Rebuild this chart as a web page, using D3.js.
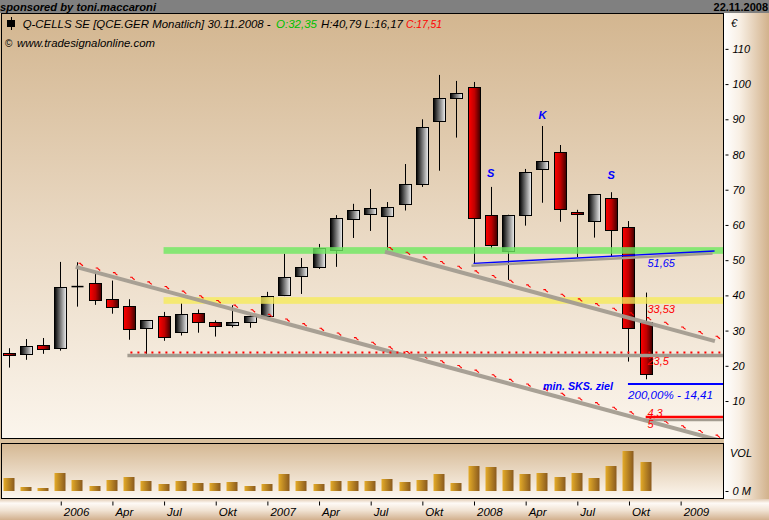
<!DOCTYPE html>
<html><head><meta charset="utf-8">
<script src="https://cdn.jsdelivr.net/npm/d3@7"></script>
<style>
body{margin:0;background:#d6ba96;}
svg{display:block;}
text{font-family:"Liberation Sans",Arial,sans-serif;font-style:italic;}
</style>
</head><body>
<svg id="c" width="769" height="520"></svg>
<script>
// ---------- DATA ----------
const months = ["2005-10","2005-11","2005-12","2006-01","2006-02","2006-03","2006-04","2006-05","2006-06","2006-07","2006-08","2006-09","2006-10","2006-11","2006-12","2007-01","2007-02","2007-03","2007-04","2007-05","2007-06","2007-07","2007-08","2007-09","2007-10","2007-11","2007-12","2008-01","2008-02","2008-03","2008-04","2008-05","2008-06","2008-07","2008-08","2008-09","2008-10","2008-11"];
const openVals  = [23.6,23.3,25.8,24.9,42.4,43.4,38.9,36.9,30.5,34.1,29.4,34.9,32.4,31.5,32.5,34.0,40.1,45.6,48.2,53.0,61.8,63.2,62.6,65.8,71.7,89.6,95.9,99.1,62.7,52.4,62.9,75.7,80.6,63.6,60.9,67.6,59.4,32.35];
const highVals  = [25.0,27.6,27.9,49.5,49.4,46.6,44.2,38.9,33.0,35.3,37.8,36.0,32.9,37.2,34.7,41.0,51.8,50.6,54.6,62.8,66.0,70.2,66.5,77.3,90.0,102.6,100.9,100.6,70.8,62.9,75.9,88.1,82.7,64.3,68.7,69.3,61.1,40.79];
const lowVals   = [19.5,21.7,23.4,24.3,36.8,37.3,34.8,27.4,23.4,27.1,28.6,29.4,28.3,30.9,30.8,33.9,39.8,40.4,47.5,48.1,56.3,58.3,52.9,64.1,70.8,75.4,84.8,49.2,53.3,44.4,59.8,66.3,60.9,50.9,56.4,51.0,21.2,16.17];
const closeVals = [23.0,25.5,24.6,42.3,42.6,38.5,36.5,30.3,32.9,28.0,34.6,32.4,31.2,32.4,34.1,39.8,45.2,48.1,53.5,62.0,64.3,64.8,65.1,71.6,87.8,96.0,97.4,61.8,54.1,62.7,75.0,78.1,64.3,62.9,68.7,58.5,30.6,17.51];
const volumeVals = [6.5,2,1.5,9,5.5,2.5,5.5,7,5,3.5,5,4,4,4.5,2.5,3.5,8.5,5,3.5,5,5,5,6,4.5,5.5,8.5,4,12.5,12,10.5,8.5,9,7,9,6.5,12.5,20,14.5];

const xTickIdx = [3,6,9,12,15,18,21,24,27,30,33,36,39];
const xTickLabels = ["2006","Apr","Jul","Okt","2007","Apr","Jul","Okt","2008","Apr","Jul","Okt","2009"];
const yTickVals = [10,20,30,40,50,60,70,80,90,100,110];

// trend lines: [monthIndex, value]
const trendA = [[3.9,48.1],[41.6,-1.6]];
const trendB = [[21.86,52.4],[41.02,27.0]];
const blueTrend = [[27.0,49.1],[41.0,52.6]];
const level235 = [[6.9,23.5],[41.6,23.5]];
const target1441 = [[35.97,14.41],[41.6,14.41]];
const redLevel = [[37.0,5.45],[41.6,5.45]];
const greenZone = [51.8,53.7];
const yellowZone = [37.6,39.5];
const zoneStartIdx = 9.0;

const patternLabels = [{i:28,v:73.6,t:"S"},{i:31,v:90.1,t:"K"},{i:35,v:73.05,t:"S"}];
const levelLabels = [
  {i:37.1,v:48.1,t:"51,65",c:"#0000ff"},
  {i:37.1,v:35.0,t:"33,53",c:"#ff0000"},
  {i:37.1,v:20.2,t:"23,5",c:"#ff0000"},
  {i:37.1,v:5.55,t:"4,3",c:"#ff0000"},
  {i:37.1,v:2.3,t:"5",c:"#ff0000"}
];

// ---------- SETUP ----------
const svg = d3.select("#c");
const W=769,H=520;
const PL=2,PR=723,PT=14,PB=438;
const VT=443,VB=498.5;

const x = d3.scaleLinear().domain([-0.383,41.49]).range([PL,PR]);
const y = d3.scaleLinear().domain([-0.5,119.9]).range([PB,PT]);
const yv = d3.scaleLinear().domain([0,24]).range([491,443]);

const defs = svg.append("defs");
function lin(id,x1,y1,x2,y2,stops){
  const g=defs.append("linearGradient").attr("id",id).attr("x1",x1).attr("y1",y1).attr("x2",x2).attr("y2",y2);
  stops.forEach(s=>g.append("stop").attr("offset",s[0]).attr("stop-color",s[1]));
}
lin("gPlot",0,0,0,1,[[0,"#d3b690"],[0.5,"#e9d8c2"],[1,"#fbf5ec"]]);
lin("gVol",0,0,0,1,[[0,"#d4b792"],[1,"#fdf7ef"]]);
lin("gRight",0,0,1,0,[[0,"#ffffff"],[0.35,"#f8efe4"],[1,"#d2b28c"]]);
lin("gBottom",0,0,0,1,[[0,"#e2ccb4"],[0.2,"#fefaf6"],[0.55,"#f0e2d2"],[1,"#d2b08e"]]);
lin("gUp",0,0,1,0,[[0,"#000000"],[1,"#f2f2f2"]]);
lin("gDown",0,0,1,0,[[0,"#ff0000"],[0.5,"#c00000"],[1,"#3c0000"]]);
lin("gVolBar",0,0,1,0,[[0,"#e4ab28"],[1,"#8a5a1e"]]);

defs.append("clipPath").attr("id","clipPlot").append("rect")
  .attr("x",PL).attr("y",PT).attr("width",PR-PL).attr("height",PB-PT);

// backgrounds
svg.append("rect").attr("x",0).attr("y",0).attr("width",W).attr("height",H).attr("fill","#d9c09e");
svg.append("rect").attr("x",0).attr("y",0).attr("width",W).attr("height",13).attr("fill","#808080");
svg.append("rect").attr("x",724).attr("y",13).attr("width",45).attr("height",486).attr("fill","url(#gRight)");
svg.append("rect").attr("x",0).attr("y",499).attr("width",769).attr("height",21).attr("fill","url(#gBottom)");
svg.append("rect").attr("x",PL).attr("y",PT).attr("width",PR-PL).attr("height",PB-PT).attr("fill","url(#gPlot)");
svg.append("rect").attr("x",PL).attr("y",VT).attr("width",PR-PL).attr("height",VB-VT).attr("fill","url(#gVol)");

// top strip texts
svg.append("text").attr("x",0).attr("y",10.5).attr("font-weight","bold").attr("font-size",11)
  .attr("textLength",156).attr("lengthAdjust","spacingAndGlyphs").text("sponsored by toni.maccaroni");
svg.append("text").attr("x",768).attr("y",10.5).attr("font-weight","bold").attr("font-size",11)
  .attr("text-anchor","end").style("font-style","normal").text("22.11.2008");

const data = months.map((m,i)=>({i,m,o:openVals[i],h:highVals[i],l:lowVals[i],c:closeVals[i],v:volumeVals[i]}));

// volume bars
svg.append("g").selectAll("rect").data(data).join("rect")
  .attr("x",d=>Math.round(x(d.i))-5.5).attr("width",11)
  .attr("y",d=>yv(d.v)).attr("height",d=>yv(0)-yv(d.v))
  .attr("fill","url(#gVolBar)");

// plot content
const gp = svg.append("g").attr("clip-path","url(#clipPlot)");

// candles
const cg = gp.append("g");
data.forEach(d=>{
  const cx = Math.round(x(d.i))+0.5;
  cg.append("line").attr("x1",cx).attr("x2",cx).attr("y1",y(d.h)).attr("y2",y(d.l)).attr("stroke","#000").attr("stroke-width",1);
  const top=y(Math.max(d.o,d.c)), bot=y(Math.min(d.o,d.c));
  if(bot-top<2){
    cg.append("line").attr("x1",cx-6).attr("x2",cx+6).attr("y1",(top+bot)/2).attr("y2",(top+bot)/2).attr("stroke","#000").attr("stroke-width",1.5);
  } else {
    cg.append("rect").attr("x",cx-6).attr("width",12).attr("y",Math.round(top)+0.5).attr("height",Math.round(bot-top))
      .attr("fill",d.c>=d.o?"url(#gUp)":"url(#gDown)").attr("stroke","#000").attr("stroke-width",1);
  }
});

// zones
gp.append("rect").attr("x",x(zoneStartIdx)).attr("width",PR-x(zoneStartIdx))
  .attr("y",y(greenZone[1])).attr("height",y(greenZone[0])-y(greenZone[1]))
  .attr("fill","#6ee860").attr("opacity",0.8);
gp.append("rect").attr("x",x(zoneStartIdx)).attr("width",PR-x(zoneStartIdx))
  .attr("y",y(yellowZone[1])).attr("height",y(yellowZone[0])-y(yellowZone[1]))
  .attr("fill","#f6ea58").attr("opacity",0.78);

const lineGen = d3.line().x(p=>x(p[0])).y(p=>y(p[1]));
const GRAY="#a39c90";

function trendWithDashes(pts,off){
  gp.append("path").attr("d",lineGen(pts)).attr("stroke",GRAY).attr("stroke-width",4).attr("fill","none").attr("opacity",0.95);
  const [a,b]=pts, slope=(b[1]-a[1])/(b[0]-a[0]);
  const val=t=>a[1]+slope*(t-a[0]);
  const marks=[];
  for(let t=Math.ceil(a[0]); t<=b[0]; t++) marks.push(t);
  gp.append("g").selectAll("path").data(marks).join("path")
    .attr("d",t=>{
      const x0=x(t)+1, x1=x(t)+5.5;
      const t1=x.invert(x1);
      return `M${x0},${y(val(t))-off}L${x0+2},${y(val(t))-off}L${x0+2.5},${y(val(t))-off+1}L${x1},${y(val(t1))-off+1}`;
    })
    .attr("stroke","#ff0000").attr("stroke-width",1.1).attr("fill","none");
}
trendWithDashes(trendA,4);
trendWithDashes(trendB,4.8);

// 23.5 level : gray band + red dotted
gp.append("path").attr("d",lineGen(level235)).attr("transform","translate(0,2)").attr("stroke",GRAY).attr("stroke-width",3.5).attr("fill","none");
gp.append("path").attr("d",lineGen(level235)).attr("transform","translate(3,-1)").attr("stroke","#ff0000").attr("stroke-width",2.2)
  .attr("stroke-dasharray","2 5").attr("fill","none");

// blue trend with gray shadow
gp.append("path").attr("d",lineGen(blueTrend)).attr("transform","translate(-2,2.5)").attr("stroke",GRAY).attr("stroke-width",2.5).attr("fill","none");
gp.append("path").attr("d",lineGen(blueTrend)).attr("stroke","#0000ff").attr("stroke-width",1.4).attr("fill","none");

// target lines
gp.append("path").attr("d",lineGen(target1441)).attr("transform","translate(0,-1.5)").attr("stroke","#0000ff").attr("stroke-width",2).attr("fill","none");
gp.append("path").attr("d",lineGen(redLevel)).attr("transform","translate(-2,3)").attr("stroke",GRAY).attr("stroke-width",2.5).attr("fill","none");
gp.append("path").attr("d",lineGen(redLevel)).attr("stroke","#ff0000").attr("stroke-width",2.6).attr("fill","none");

// labels
gp.append("g").selectAll("text").data(patternLabels).join("text")
  .attr("x",d=>x(d.i)).attr("y",d=>y(d.v)).attr("text-anchor","middle")
  .attr("font-weight","bold").attr("font-size",11).attr("fill","#0000ff").text(d=>d.t);
gp.append("g").selectAll("text").data(levelLabels).join("text")
  .attr("x",d=>x(d.i)).attr("y",d=>y(d.v)).attr("font-size",11).attr("fill",d=>d.c).text(d=>d.t);
gp.append("text").attr("x",543).attr("y",390).attr("font-weight","bold").attr("font-size",10.5).attr("fill","#0000ff")
  .attr("textLength",70).attr("lengthAdjust","spacingAndGlyphs").text("min. SKS. ziel");
gp.append("text").attr("x",628).attr("y",399).attr("font-size",11).attr("fill","#0000ff")
  .attr("textLength",85).attr("lengthAdjust","spacingAndGlyphs").text("200,00% - 14,41");

// header
gp.append("line").attr("x1",11.5).attr("x2",11.5).attr("y1",17).attr("y2",30).attr("stroke","#000");
gp.append("rect").attr("x",7.5).attr("y",20.5).attr("width",7).attr("height",6).attr("fill","#000").attr("stroke","#000");
const hdr=[
  {x:22.7,w:248,t:"Q-CELLS SE [QCE.GER Monatlich] 30.11.2008 -",c:"#000"},
  {x:276,w:41,t:"O:32,35",c:"#00c000"},
  {x:321,w:82,t:"H:40,79 L:16,17",c:"#000"},
  {x:406,w:36,t:"C:17,51",c:"#ff0000"}
];
gp.append("g").selectAll("text").data(hdr).join("text")
  .attr("x",d=>d.x).attr("y",28).attr("font-size",11.5).attr("fill",d=>d.c)
  .attr("textLength",d=>d.w).attr("lengthAdjust","spacingAndGlyphs").text(d=>d.t);
gp.append("text").attr("x",5).attr("y",46.5).attr("font-size",10).style("font-style","normal").text("©");
gp.append("text").attr("x",17).attr("y",46.5).attr("font-size",11.5)
  .attr("textLength",138).attr("lengthAdjust","spacingAndGlyphs").text("www.tradesignalonline.com");

// borders
svg.append("rect").attr("x",1.5).attr("y",13.5).attr("width",PR-1).attr("height",PB-13).attr("fill","none").attr("stroke","#000");
svg.append("rect").attr("x",1.5).attr("y",VT+0.5).attr("width",PR-1).attr("height",VB-VT-0.5).attr("fill","none").attr("stroke","#000");

// right price axis
const ay = svg.append("g").attr("transform","translate(725.5,0)")
  .call(d3.axisRight(y).tickValues(yTickVals).tickSize(3).tickPadding(4));
ay.select(".domain").remove();
ay.selectAll("text").attr("font-size",11).attr("font-family","Liberation Sans").style("font-style","italic").attr("fill","#000");
svg.append("text").attr("x",731).attr("y",27).attr("font-size",11).text("€");

// volume axis
const av = svg.append("g").attr("transform","translate(725.5,0)")
  .call(d3.axisRight(yv).tickValues([0]).tickSize(3).tickPadding(4).tickFormat(()=>"0 M"));
av.select(".domain").remove();
av.selectAll("text").attr("font-size",11).attr("font-family","Liberation Sans").style("font-style","italic").attr("fill","#000");
svg.append("text").attr("x",730).attr("y",457).attr("font-size",11).text("VOL");

// bottom time axis
const ax = svg.append("g").attr("transform","translate(0,501.5)")
  .call(d3.axisBottom(x).tickValues(xTickIdx).tickSize(4).tickFormat((d,k)=>xTickLabels[k]));
ax.select(".domain").remove();
ax.selectAll(".tick line").attr("transform","translate(0.5,0)");
ax.selectAll("text").attr("text-anchor","start").attr("x",3).attr("y",14.5).attr("dy",0)
  .attr("font-size",11.5).attr("font-family","Liberation Sans").style("font-style","italic").attr("fill","#000");
</script>
</body></html>
